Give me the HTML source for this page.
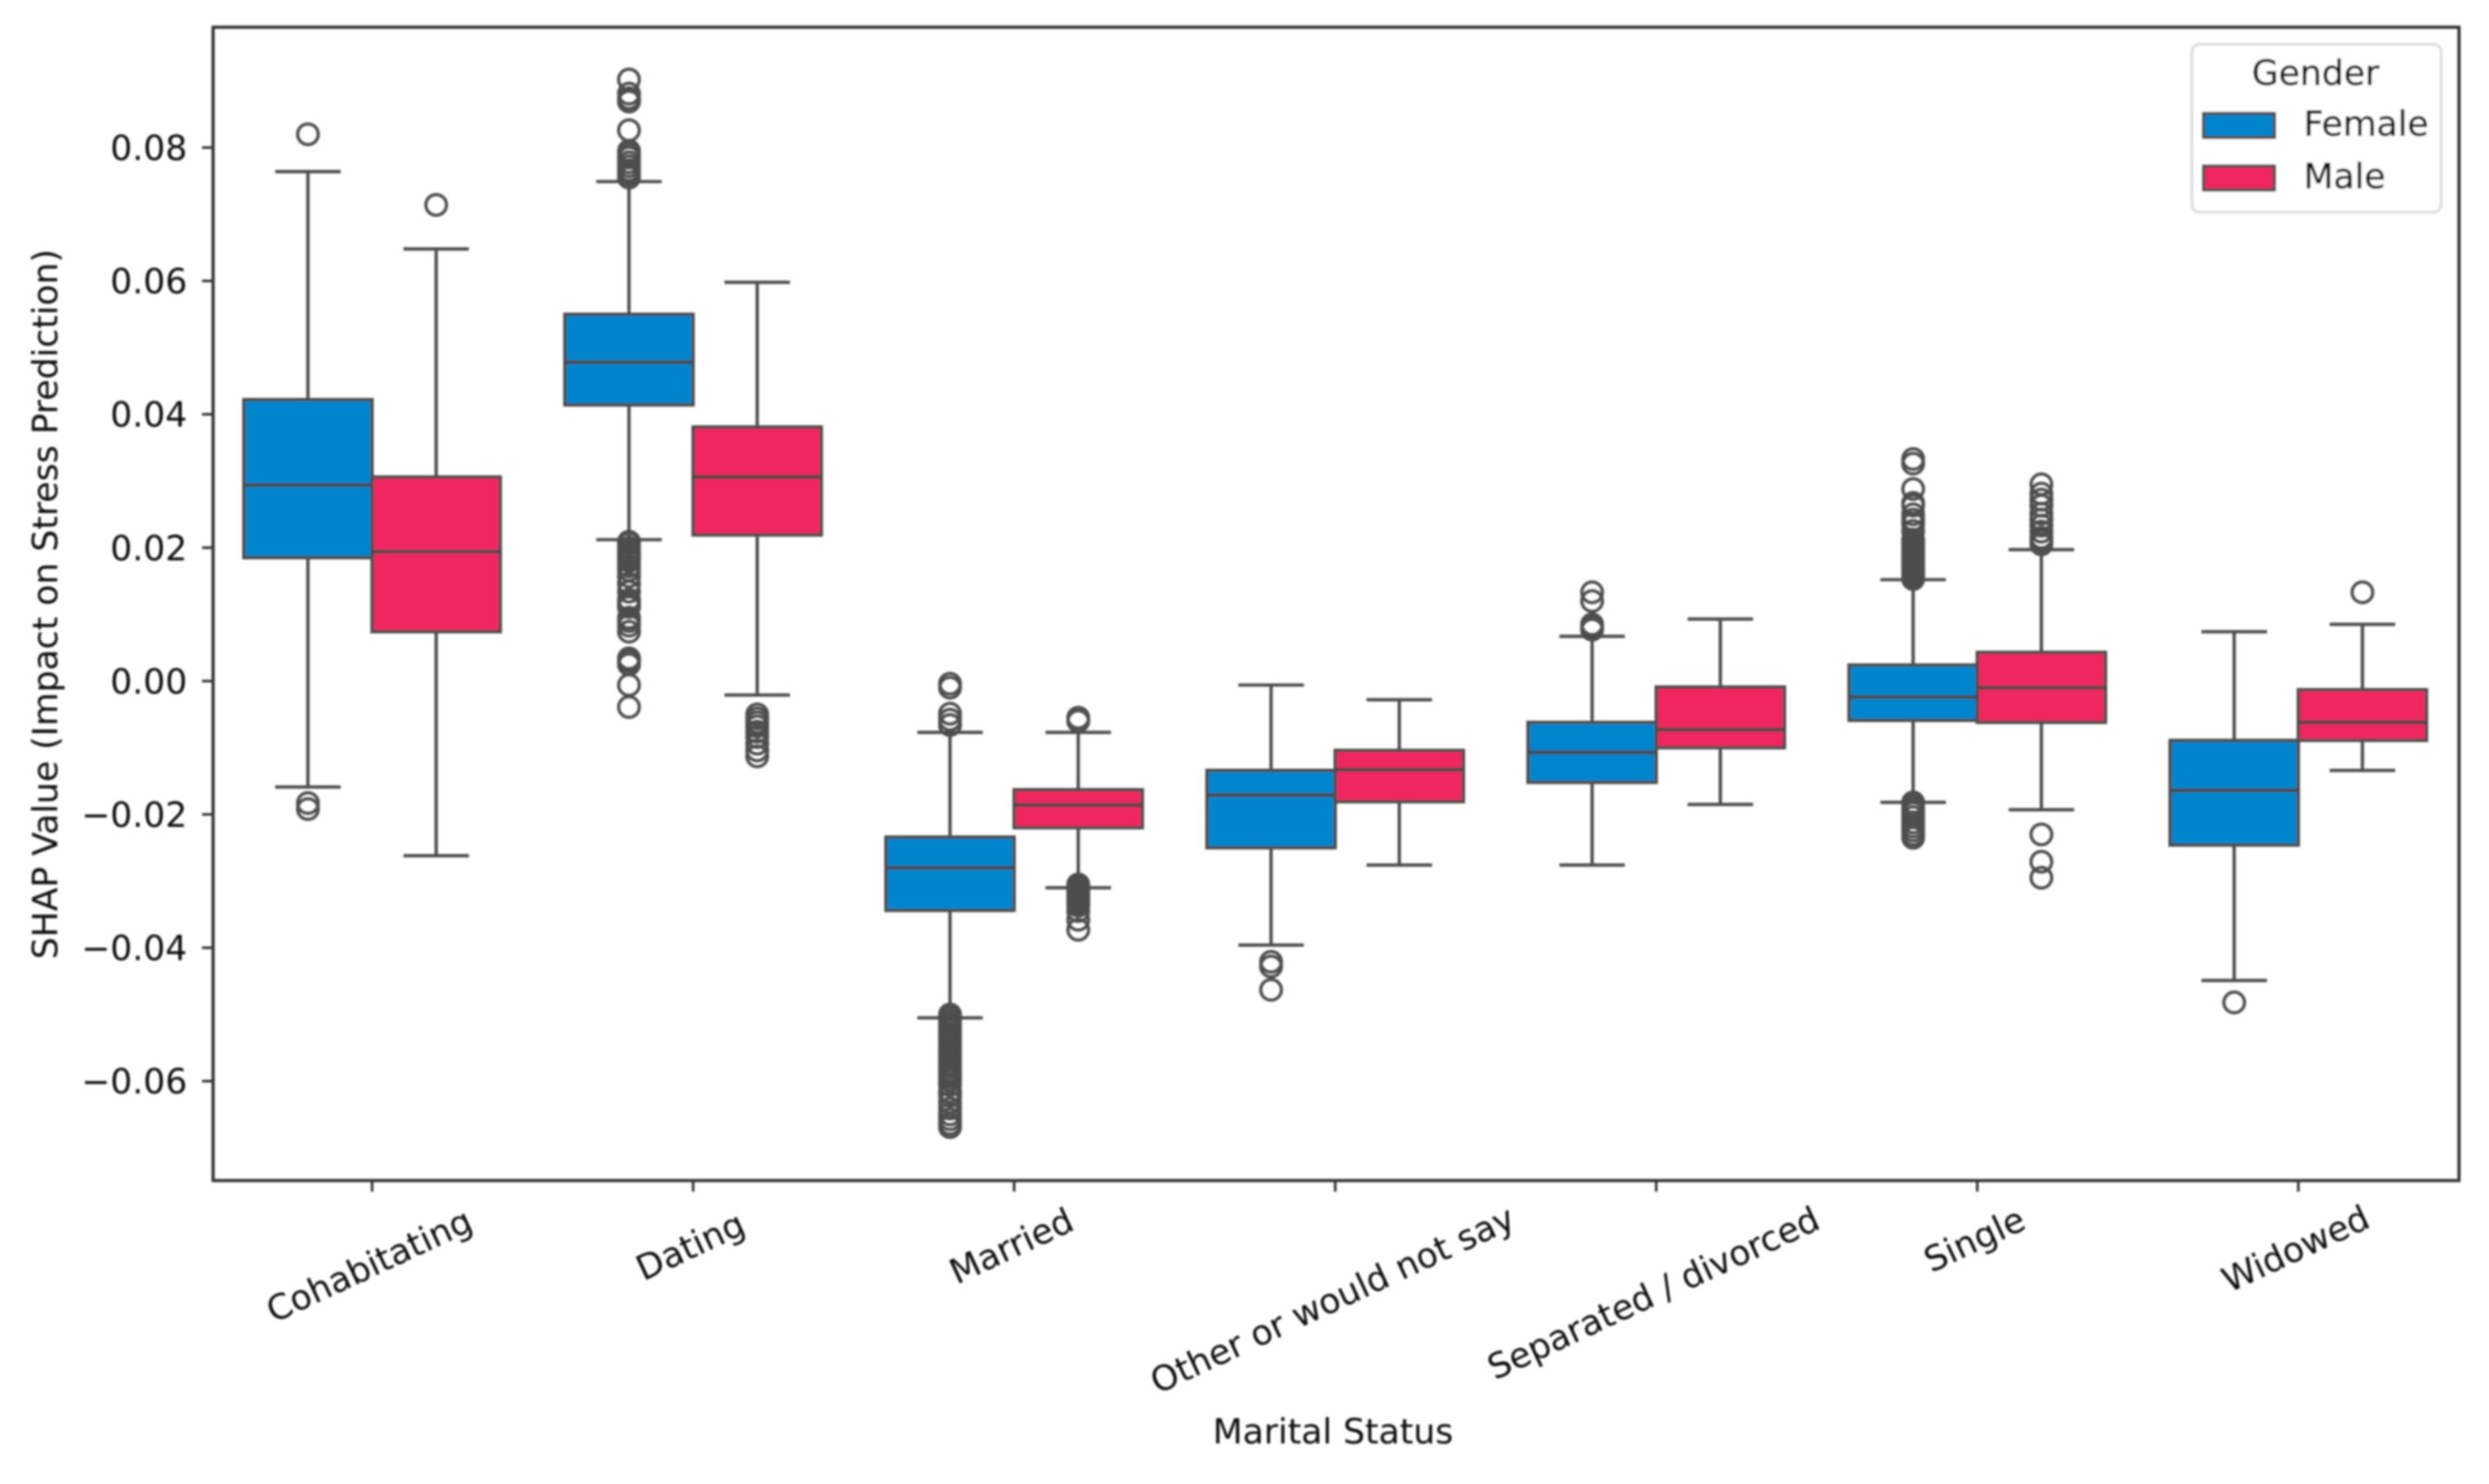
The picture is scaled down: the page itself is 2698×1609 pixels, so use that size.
<!DOCTYPE html>
<html lang="en">
<head>
<meta charset="utf-8">
<title>SHAP Value by Marital Status and Gender</title>
<style>
html,body{margin:0;padding:0;background:#fff;width:2698px;height:1609px;overflow:hidden}
svg{display:block}
text{font-family:"DejaVu Sans","Liberation Sans",sans-serif;font-size:37.5px;fill:#0c0c0c}
.legend-text{stroke:#0c0c0c;stroke-width:0.5px}
</style>
</head>
<body>
<svg id="chart" xmlns="http://www.w3.org/2000/svg" width="2698" height="1609" viewBox="0 0 2698 1609">
  <defs>
    <filter id="soft" filterUnits="userSpaceOnUse" x="0" y="0" width="2698" height="1609">
      <feGaussianBlur stdDeviation="1"/>
    </filter>
  </defs>
  <rect width="2698" height="1609" fill="#fff"/>
  <g id="root" filter="url(#soft)"></g>
</svg>
<script>
const categories = ["Cohabitating","Dating","Married","Other or would not say","Separated / divorced","Single","Widowed"];
const yTicks = [0.08,0.06,0.04,0.02,0,-0.02,-0.04,-0.06];
const yTickLabels = ["0.08","0.06","0.04","0.02","0.00","−0.02","−0.04","−0.06"];
const xAxisTitle = "Marital Status";
const yAxisTitle = "SHAP Value (Impact on Stress Prediction)";
const legendTitle = "Gender";
const seriesNames = ["Female","Male"];

const femaleWhiskerLow  = [-0.0159, 0.0212,-0.0505,-0.0396,-0.0276,-0.0182,-0.0449];
const femaleQ1          = [ 0.0185, 0.0414,-0.0344,-0.0250,-0.0152,-0.0059,-0.0246];
const femaleMedian      = [ 0.0294, 0.0478,-0.0280,-0.0171,-0.0107,-0.0024,-0.0164];
const femaleQ3          = [ 0.0422, 0.0550,-0.0234,-0.0134,-0.0062, 0.0024,-0.0089];
const femaleWhiskerHigh = [ 0.0764, 0.0749,-0.0077,-0.0006, 0.0067, 0.0152, 0.0074];

const maleWhiskerLow  = [-0.0262,-0.0021,-0.0310,-0.0276,-0.0185,-0.0193,-0.0134];
const maleQ1          = [ 0.0074, 0.0219,-0.0220,-0.0181,-0.0100,-0.0062,-0.0089];
const maleMedian      = [ 0.0194, 0.0306,-0.0186,-0.0133,-0.0073,-0.0010,-0.0062];
const maleQ3          = [ 0.0306, 0.0381,-0.0163,-0.0104,-0.0009, 0.0043,-0.0013];
const maleWhiskerHigh = [ 0.0648, 0.0598,-0.0077,-0.0028, 0.0093, 0.0197, 0.0085];

const femaleOutliers = [
  [0.0820,-0.0183,-0.0192],
  [0.0902,0.0881,0.0874,0.0869,0.0826,0.0795,0.0790,0.0785,0.0778,0.0772,0.0766,0.0760,0.0755,
   0.0209,0.0206,0.0200,0.0194,0.0190,0.0187,0.0183,0.0180,0.0172,0.0166,0.0157,0.0146,0.0134,0.0122,0.0118,0.0114,0.0111,0.0095,0.0090,0.0083,0.0074,0.0034,0.0030,0.0025,-0.0006,-0.0039],
  [-0.0004,-0.0010,-0.0049,-0.0058,-0.0066,
   -0.0500,-0.0504,-0.0509,-0.0514,-0.0519,-0.0524,-0.0529,-0.0534,-0.0539,-0.0544,-0.0549,-0.0554,-0.0559,-0.0564,-0.0569,-0.0574,-0.0579,-0.0584,-0.0589,-0.0594,-0.0599,-0.0606,-0.0616,-0.0622,-0.0632,-0.0641,-0.0650,-0.0657,-0.0664,-0.0669],
  [-0.0421,-0.0428,-0.0463],
  [0.0133,0.0120,0.0085,0.0081,0.0077],
  [0.0333,0.0326,0.0288,0.0267,0.0263,0.0250,0.0242,0.0236,0.0225,0.0212,0.0208,0.0204,0.0200,0.0196,0.0192,0.0188,0.0184,0.0180,0.0176,0.0172,0.0168,0.0164,0.0160,0.0156,0.0153,
   -0.0182,-0.0187,-0.0192,-0.0198,-0.0204,-0.0212,-0.0218,-0.0224,-0.0230,-0.0235],
  [-0.0482]
];
const maleOutliers = [
  [0.0714],
  [-0.0050,-0.0056,-0.0062,-0.0068,-0.0076,-0.0084,-0.0094,-0.0104,-0.0113],
  [-0.0055,-0.0060,-0.0305,-0.0309,-0.0313,-0.0317,-0.0321,-0.0325,-0.0329,-0.0333,-0.0337,-0.0345,-0.0358,-0.0373],
  [],
  [],
  [0.0295,0.0281,0.0272,0.0263,0.0251,0.0242,0.0233,0.0224,0.0215,0.0210,0.0205,-0.0230,-0.0271,-0.0295],
  [0.0133]
];

const SVGNS = "http://www.w3.org/2000/svg";
const root = document.getElementById("root");
const plotLeft = 231, plotRight = 2665.5, plotTop = 29.5, plotBottom = 1280;
const zeroY = 738.4, pxPerUnit = 7230;
const firstCenter = 403.3, bandStep = 348, boxWidth = 139, capWidth = 71;
const lineColor = "#4e4e4e";
const seriesColors = ["#0085cc","#ef2560"];

function yScale(v){ return zeroY - v * pxPerUnit; }
function xCenter(i){ return firstCenter + i * bandStep; }
function xBox(i, s){ return xCenter(i) + (s === 0 ? -boxWidth : 0); }
function make(tag, attrs){
  const el = document.createElementNS(SVGNS, tag);
  for (const k in attrs) el.setAttribute(k, attrs[k]);
  return el;
}
function slug(s){ return s.toLowerCase().replace(/[^a-z0-9]+/g, "-"); }

function drawBox(i, s, low, q1, med, q3, high, outliers){
  const cat = slug(categories[i]);
  const ser = slug(seriesNames[s]);
  const bx = xBox(i, s);
  const cx = bx + boxWidth / 2;
  const g = make("g", {});
  
  
  root.appendChild(g);

  const upper = make("line", {x1:cx, x2:cx, y1:yScale(q3), y2:yScale(high), stroke:lineColor, "stroke-width":3.6});
  
  
  g.appendChild(upper);

  const lower = make("line", {x1:cx, x2:cx, y1:yScale(q1), y2:yScale(low), stroke:lineColor, "stroke-width":3.6});
  
  
  g.appendChild(lower);

  const capHigh = make("line", {x1:cx-capWidth/2, x2:cx+capWidth/2, y1:yScale(high), y2:yScale(high), stroke:lineColor, "stroke-width":3.6});
  
  
  g.appendChild(capHigh);

  const capLow = make("line", {x1:cx-capWidth/2, x2:cx+capWidth/2, y1:yScale(low), y2:yScale(low), stroke:lineColor, "stroke-width":3.6});
  
  
  g.appendChild(capLow);

  const box = make("rect", {x:bx, y:yScale(q3), width:boxWidth, height:yScale(q1)-yScale(q3), fill:seriesColors[s], stroke:lineColor, "stroke-width":3.6});
  
  
  g.appendChild(box);

  const medLine = make("line", {x1:bx, x2:bx+boxWidth, y1:yScale(med), y2:yScale(med), stroke:"#4a4a4a", "stroke-width":4});
  
  
  g.appendChild(medLine);

  outliers.forEach(function(v){
    const c = make("circle", {cx:cx, cy:yScale(v), r:11.2, fill:"none", stroke:lineColor, "stroke-width":3.5});
    
    
    g.appendChild(c);
  });
}

categories.forEach(function(_, i){
  drawBox(i, 0, femaleWhiskerLow[i], femaleQ1[i], femaleMedian[i], femaleQ3[i], femaleWhiskerHigh[i], femaleOutliers[i]);
});
categories.forEach(function(_, i){
  drawBox(i, 1, maleWhiskerLow[i], maleQ1[i], maleMedian[i], maleQ3[i], maleWhiskerHigh[i], maleOutliers[i]);
});

const frame = make("rect", {x:plotLeft, y:plotTop, width:plotRight-plotLeft, height:plotBottom-plotTop, fill:"none", stroke:"#333", "stroke-width":3.4});


root.appendChild(frame);

yTicks.forEach(function(v, i){
  const y = yScale(v);
  const tick = make("line", {x1:plotLeft-12, x2:plotLeft, y1:y, y2:y, stroke:"#333", "stroke-width":2.8});
  
  
  root.appendChild(tick);
  const label = make("text", {x:203, y:y+13.5, "text-anchor":"end"});
  
  
  label.textContent = yTickLabels[i];
  root.appendChild(label);
});

const labelCenterY = [1372,1351,1351,1409,1402,1344,1354];
categories.forEach(function(name, i){
  const x = xCenter(i);
  const tick = make("line", {x1:x, x2:x, y1:plotBottom, y2:plotBottom+12, stroke:"#333", "stroke-width":2.8});
  
  
  root.appendChild(tick);
  const cy = labelCenterY[i];
  const lx = x - 3;
  const label = make("text", {x:lx, y:cy+13, "text-anchor":"middle", transform:"rotate(-25 " + lx + " " + cy + ")"});
  
  
  label.textContent = name;
  root.appendChild(label);
});

const xTitle = make("text", {x:1445, y:1565, "text-anchor":"middle"});


xTitle.textContent = xAxisTitle;
root.appendChild(xTitle);

const yTitle = make("text", {x:62, y:655, "text-anchor":"middle", transform:"rotate(-90 62 655)"});


yTitle.textContent = yAxisTitle;
root.appendChild(yTitle);

const legend = make("g", {});


root.appendChild(legend);

const legendBox = make("rect", {x:2376, y:48, width:270, height:182, rx:8, ry:8, fill:"#fff", stroke:"#dcdcdc", "stroke-width":3});


legend.appendChild(legendBox);

const legendHead = make("text", {x:2510, y:92, "text-anchor":"middle", "class":"legend-text"});


legendHead.textContent = legendTitle;
legend.appendChild(legendHead);

seriesNames.forEach(function(name, s){
  const top = 123 + s * 57;
  const swatch = make("rect", {x:2388.5, y:top, width:77, height:26, fill:seriesColors[s], stroke:lineColor, "stroke-width":3.4});
  
  
  legend.appendChild(swatch);
  const t = make("text", {x:2497, y:top+24, "class":"legend-text"});
  
  
  t.textContent = name;
  legend.appendChild(t);
});
</script>
</body>
</html>
